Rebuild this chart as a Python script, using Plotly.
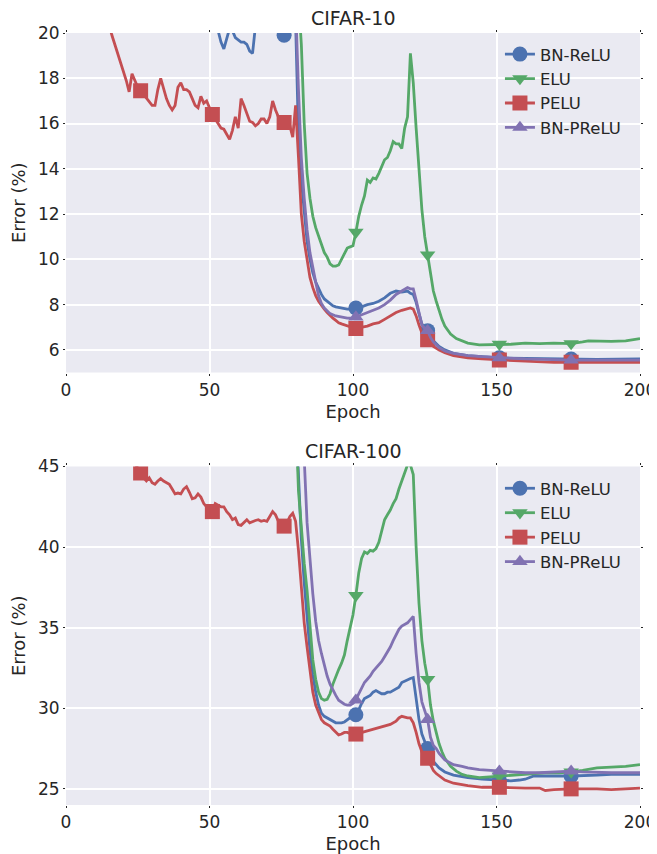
import plotly.graph_objects as go

# ---------------- data ----------------
EPOCH_TICKS = [0, 50, 100, 150, 200]
C10_Y_TICKS = [6, 8, 10, 12, 14, 16, 18, 20]
C100_Y_TICKS = [25, 30, 35, 40, 45]
MARK_EPOCHS = [1, 26, 51, 76, 101, 126, 151, 176]
SERIES_NAMES = ["BN-ReLU", "ELU", "PELU", "BN-PReLU"]

# CIFAR-10 : (epoch, error %)
c10_bn_relu = [
    (1, 40), (10, 27), (20, 23), (26, 22.3), (30, 22), (40, 21), (45, 21), (50, 20.8),
    (51, 20.7), (52, 20.5), (53, 20.1), (54, 19.6), (55, 19.3), (56, 19.8), (57, 20.2),
    (58, 20.1), (59, 19.8), (60, 19.7), (61, 19.6), (62, 19.6), (63, 19.5), (64, 19.2),
    (65, 19.1), (66, 20.3), (68, 21), (70, 20.8), (72, 20.4), (74, 20.1), (75, 20.0),
    (76, 19.9), (77, 20.1), (78, 20.5), (79, 21), (80, 20.5), (81, 15.5), (82, 13.5),
    (83, 12.0), (84, 10.8), (85, 10.0), (86, 9.4), (87, 9.0), (88, 8.7), (89, 8.45),
    (90, 8.25), (91, 8.15), (92, 8.05), (93, 7.95), (94, 7.9), (96, 7.85), (98, 7.8),
    (100, 7.8), (101, 7.85), (103, 7.9), (105, 8.0), (107, 8.05), (109, 8.15),
    (111, 8.3), (113, 8.5), (115, 8.6), (117, 8.55), (119, 8.6), (120, 8.5),
    (121, 8.45), (122, 8.1), (123, 7.6), (124, 7.15), (125, 6.95), (126, 6.85),
    (127, 6.6), (128, 6.4), (130, 6.15), (132, 6.0), (135, 5.85), (140, 5.75),
    (145, 5.7), (151, 5.65), (160, 5.62), (170, 5.6), (176, 5.6), (185, 5.58),
    (200, 5.6),
]
c10_elu = [
    (1, 45), (20, 28), (26, 27), (40, 25), (51, 24), (60, 23), (70, 22.5), (76, 22.2),
    (80, 22), (81, 21.5), (82, 19.5), (83, 16.0), (84, 13.8), (85, 12.7), (86, 11.9),
    (87, 11.4), (88, 11.0), (89, 10.6), (90, 10.3), (91, 10.1), (92, 9.8), (93, 9.7),
    (94, 9.7), (95, 9.75), (96, 10.0), (97, 10.3), (98, 10.5), (99, 10.55),
    (100, 10.6), (101, 11.2), (102, 11.9), (103, 12.4), (104, 12.8), (105, 13.5),
    (106, 13.4), (107, 13.6), (108, 13.55), (109, 13.8), (110, 14.1), (111, 14.4),
    (112, 14.5), (113, 14.8), (114, 15.2), (115, 15.1), (116, 15.1), (117, 14.9),
    (118, 15.8), (119, 16.3), (120, 19.1), (121, 17.8), (122, 15.8), (123, 13.8),
    (124, 12.2), (125, 11.0), (126, 10.2), (127, 9.3), (128, 8.6), (129, 8.15),
    (130, 7.7), (131, 7.35), (132, 7.05), (134, 6.7), (136, 6.5), (138, 6.4),
    (140, 6.3), (144, 6.22), (148, 6.22), (151, 6.25), (155, 6.25), (160, 6.3),
    (165, 6.28), (170, 6.3), (176, 6.28), (180, 6.35), (182, 6.4), (190, 6.38),
    (195, 6.4), (200, 6.5),
]
c10_pelu = [
    (1, 30), (4, 26), (8, 23), (12, 21.6), (14, 20.8), (16, 19.9), (18, 19.1),
    (20, 18.4), (21, 17.9), (22, 17.4), (23, 18.2), (24, 17.9), (25, 17.6),
    (26, 17.45), (27, 17.3), (28, 17.1), (29, 17.0), (30, 16.8), (31, 16.8),
    (32, 17.5), (33, 18.0), (34, 17.5), (35, 17.1), (36, 16.8), (37, 16.6),
    (38, 16.8), (39, 17.6), (40, 17.8), (41, 17.5), (42, 17.5), (43, 17.4),
    (44, 17.1), (45, 16.8), (46, 16.7), (47, 17.2), (48, 16.9), (49, 17.0),
    (50, 16.7), (51, 16.4), (52, 16.2), (53, 16.0), (54, 15.8), (55, 15.75),
    (56, 15.5), (57, 15.3), (58, 15.7), (59, 16.3), (60, 15.8), (61, 17.1),
    (62, 16.8), (63, 16.4), (64, 16.1), (65, 16.05), (66, 15.9), (67, 16.0),
    (68, 16.2), (69, 16.2), (70, 16.0), (71, 16.3), (72, 17.0), (73, 16.6),
    (74, 16.3), (75, 16.2), (76, 16.05), (77, 16.0), (78, 15.9), (79, 15.4),
    (80, 16.8), (81, 14.5), (82, 12.0), (83, 10.8), (84, 9.9), (85, 9.2),
    (86, 8.75), (87, 8.4), (88, 8.15), (89, 7.95), (90, 7.8), (91, 7.65),
    (92, 7.5), (93, 7.4), (94, 7.3), (95, 7.2), (96, 7.15), (97, 7.1), (98, 7.05),
    (99, 7.0), (100, 6.98), (101, 6.95), (103, 7.0), (105, 7.05), (107, 7.15),
    (109, 7.2), (111, 7.35), (113, 7.5), (115, 7.65), (117, 7.75), (119, 7.8),
    (120, 7.85), (121, 7.8), (122, 7.5), (123, 7.1), (124, 6.75), (125, 6.55),
    (126, 6.45), (127, 6.3), (128, 6.15), (130, 6.0), (132, 5.88), (135, 5.75),
    (140, 5.65), (145, 5.6), (151, 5.55), (160, 5.5), (170, 5.45), (176, 5.45),
    (185, 5.45), (200, 5.45),
]
c10_bn_prelu = [
    (1, 45), (10, 30), (20, 26), (26, 25), (30, 24), (40, 23), (51, 22.5), (60, 22),
    (70, 21.8), (76, 21.5), (80, 21.3), (81, 17.5), (82, 14.5), (83, 12.7),
    (84, 11.3), (85, 10.3), (86, 9.6), (87, 9.0), (88, 8.4), (89, 8.05), (90, 7.85),
    (91, 7.7), (92, 7.6), (94, 7.5), (96, 7.45), (98, 7.4), (100, 7.4), (101, 7.45),
    (103, 7.55), (105, 7.65), (107, 7.75), (109, 7.85), (111, 8.0), (113, 8.2),
    (115, 8.45), (117, 8.6), (118, 8.7), (119, 8.75), (120, 8.7), (121, 8.7),
    (122, 8.2), (123, 7.6), (124, 7.1), (125, 6.95), (126, 6.85), (127, 6.55),
    (128, 6.35), (130, 6.1), (132, 5.95), (135, 5.85), (140, 5.75), (145, 5.7),
    (151, 5.65), (160, 5.6), (176, 5.55), (190, 5.55), (200, 5.55),
]

# CIFAR-100 : (epoch, error %)
c100_bn_relu = [
    (1, 70), (20, 55), (26, 54), (40, 52), (51, 51), (60, 50), (70, 49.5),
    (76, 49), (80, 48.5), (81, 44.0), (82, 40.5), (83, 37.8), (84, 35.6),
    (85, 33.6), (86, 32.1), (87, 31.0), (88, 30.2), (89, 29.7), (90, 29.5),
    (91, 29.4), (92, 29.3), (93, 29.2), (94, 29.1), (95, 29.1), (96, 29.1),
    (97, 29.15), (98, 29.3), (99, 29.45), (100, 29.55), (101, 29.6), (102, 29.9),
    (103, 30.3), (104, 30.6), (105, 30.7), (106, 30.8), (107, 31.0), (108, 31.1),
    (109, 31.0), (110, 30.9), (111, 30.9), (112, 31.0), (113, 31.0), (114, 31.1),
    (115, 31.2), (116, 31.3), (117, 31.6), (118, 31.7), (119, 31.8), (120, 31.85),
    (121, 31.9), (122, 30.5), (123, 29.3), (124, 28.4), (125, 27.9), (126, 27.5),
    (127, 27.0), (128, 26.7), (129, 26.5), (130, 26.3), (132, 26.05), (135, 25.85),
    (140, 25.7), (145, 25.6), (151, 25.55), (155, 25.5), (158, 25.55), (160, 25.6),
    (163, 25.8), (170, 25.8), (176, 25.8), (185, 25.85), (190, 25.9), (200, 25.9),
]
c100_elu = [
    (1, 70), (20, 58), (26, 57), (40, 54), (51, 52), (60, 51), (70, 50), (76, 49),
    (80, 48.5), (81, 43.5), (82, 41.0), (83, 39.0), (84, 37.3), (85, 35.0),
    (86, 33.0), (87, 31.8), (88, 31.0), (89, 30.6), (90, 30.5), (91, 30.55),
    (92, 30.9), (93, 31.5), (94, 32.0), (95, 32.4), (96, 32.8), (97, 33.3),
    (98, 34.2), (99, 35.0), (100, 35.8), (101, 37.0), (102, 38.4), (103, 39.3),
    (104, 39.7), (105, 39.6), (106, 39.8), (107, 39.75), (108, 39.9), (109, 40.3),
    (110, 41.0), (111, 41.7), (112, 42.0), (113, 42.3), (114, 42.7), (115, 43.0),
    (116, 43.6), (117, 44.1), (118, 44.6), (119, 45.1), (120, 45.1), (121, 44.5),
    (122, 40.0), (123, 36.5), (124, 34.2), (125, 32.8), (126, 31.8), (127, 30.2),
    (128, 29.2), (129, 28.4), (130, 27.8), (131, 27.3), (132, 26.9), (134, 26.4),
    (136, 26.1), (138, 25.9), (140, 25.8), (144, 25.7), (148, 25.75), (151, 25.8),
    (155, 25.85), (160, 25.9), (167, 26.0), (172, 26.0), (176, 26.05), (180, 26.15),
    (185, 26.3), (190, 26.35), (195, 26.4), (200, 26.5),
]
c100_pelu = [
    (1, 60), (5, 55), (10, 51), (15, 48.5), (20, 46.5), (23, 45.5), (25, 44.9),
    (26, 44.6), (27, 44.3), (28, 44.1), (29, 44.3), (30, 44.0), (31, 43.9),
    (32, 44.1), (33, 44.25), (34, 44.1), (35, 44.0), (36, 43.9), (37, 43.6),
    (38, 43.3), (39, 43.35), (40, 43.3), (41, 43.6), (42, 43.75), (43, 43.4),
    (44, 43.0), (45, 43.05), (46, 43.3), (47, 43.1), (48, 42.7), (49, 42.5),
    (50, 42.3), (51, 42.2), (52, 42.7), (53, 42.6), (54, 42.5), (55, 42.5),
    (56, 42.2), (57, 42.0), (58, 41.7), (59, 41.8), (60, 41.4), (61, 41.35),
    (62, 41.5), (63, 41.7), (64, 41.5), (65, 41.6), (66, 41.65), (67, 41.7),
    (68, 41.6), (69, 41.65), (70, 41.6), (71, 41.9), (72, 42.2), (73, 42.0),
    (74, 41.6), (75, 41.4), (76, 41.3), (77, 41.5), (78, 41.9), (79, 42.1),
    (80, 41.6), (81, 39.8), (82, 37.6), (83, 35.3), (84, 33.8), (85, 32.2),
    (86, 31.0), (87, 30.2), (88, 29.7), (89, 29.3), (90, 29.1), (91, 29.0),
    (92, 28.9), (93, 28.7), (94, 28.5), (95, 28.35), (96, 28.4), (97, 28.5),
    (98, 28.5), (99, 28.4), (100, 28.35), (101, 28.4), (103, 28.5), (105, 28.6),
    (107, 28.7), (109, 28.8), (111, 28.9), (113, 29.0), (115, 29.2), (116, 29.4),
    (117, 29.5), (118, 29.45), (119, 29.4), (120, 29.4), (121, 29.1), (122, 28.5),
    (123, 27.8), (124, 27.3), (125, 27.1), (126, 26.9), (127, 26.5), (128, 26.15),
    (129, 25.95), (130, 25.8), (132, 25.55), (135, 25.35), (140, 25.2), (145, 25.1),
    (151, 25.1), (160, 25.05), (165, 25.05), (167, 24.9), (170, 24.95), (176, 25.0),
    (185, 25.0), (190, 24.95), (195, 25.0), (200, 25.05),
]
c100_bn_prelu = [
    (1, 75), (20, 60), (26, 59), (40, 56), (51, 54), (60, 53), (70, 52), (76, 51.5),
    (80, 51), (82, 48), (83, 45.5), (84, 41.5), (85, 39.0), (86, 37.1), (87, 35.4),
    (88, 34.2), (89, 33.4), (90, 32.6), (91, 32.0), (92, 31.5), (93, 31.1),
    (94, 30.8), (95, 30.5), (96, 30.35), (97, 30.25), (98, 30.2), (99, 30.2),
    (100, 30.3), (101, 30.5), (102, 30.9), (103, 31.3), (104, 31.6), (105, 31.8),
    (106, 32.0), (107, 32.3), (108, 32.5), (109, 32.7), (110, 32.9), (111, 33.2),
    (112, 33.5), (113, 33.8), (114, 34.2), (115, 34.6), (116, 34.9), (117, 35.1),
    (118, 35.2), (119, 35.3), (120, 35.5), (121, 35.7), (122, 33.4), (123, 31.6),
    (124, 30.4), (125, 29.8), (126, 29.3), (127, 28.2), (128, 27.7), (129, 27.5),
    (130, 27.2), (132, 26.8), (135, 26.5), (138, 26.4), (140, 26.3), (144, 26.2),
    (151, 26.1), (155, 26.05), (160, 26.0), (165, 26.0), (170, 26.05), (176, 26.1),
    (180, 26.05), (190, 26.0), (200, 26.0),
]

# ---------------- styling ----------------
COLORS = ["#4C72B0", "#55A868", "#C44E52", "#8172B2"]
SYMBOLS = ["circle", "triangle-down", "square", "triangle-up"]
MSIZES = [15, 13.5, 15, 13.5]
TEXT = "#262626"
FONT = "DejaVu Sans"

fig = go.Figure()

panels = [
    ("x", "y", "legend", [c10_bn_relu, c10_elu, c10_pelu, c10_bn_prelu]),
    ("x2", "y2", "legend2", [c100_bn_relu, c100_elu, c100_pelu, c100_bn_prelu]),
]

for xa, ya, leg, series in panels:
    for name, data, col, sym, ms in zip(SERIES_NAMES, series, COLORS, SYMBOLS, MSIZES):
        ep = [p[0] for p in data]
        val = [p[1] for p in data]
        lookup = dict(data)
        mx = list(MARK_EPOCHS)
        my = [lookup[e] for e in MARK_EPOCHS]
        fig.add_trace(go.Scatter(
            x=ep, y=val, mode="lines", xaxis=xa, yaxis=ya,
            line=dict(color=col, width=2.8), showlegend=False, hoverinfo="skip"))
        fig.add_trace(go.Scatter(
            x=mx, y=my, mode="markers", xaxis=xa, yaxis=ya,
            marker=dict(color=col, symbol=sym, size=ms, line=dict(width=0)),
            showlegend=False, hoverinfo="skip"))
        # legend entry (line + marker sample)
        fig.add_trace(go.Scatter(
            x=[None], y=[None], mode="lines+markers", name=name, xaxis=xa, yaxis=ya,
            legend=leg,
            line=dict(color=col, width=2.8),
            marker=dict(color=col, symbol=sym, size=ms, line=dict(width=0))))

axis_common = dict(
    showgrid=True, gridcolor="white", gridwidth=1.6, zeroline=False, showline=False,
    ticks="outside", ticklen=2, tickcolor=TEXT, mirror="ticks", automargin=False,
    tickfont=dict(family=FONT, size=17, color=TEXT),
)
xtitle = dict(text="Epoch", font=dict(family=FONT, size=18, color=TEXT), standoff=6)
ytitle = dict(text="Error (%)", font=dict(family=FONT, size=18, color=TEXT), standoff=8)
legend_common = dict(xanchor="left", yanchor="top", bgcolor="rgba(0,0,0,0)",
                     font=dict(family=FONT, size=16.5, color=TEXT), tracegroupgap=0)

TOP_DOM = [0.5602, 1]
BOT_DOM = [0, 0.4385]

# the page adds an 8 px body margin, so the figure is 8 px smaller than the window
fig.update_layout(
    width=649, height=846,
    margin=dict(l=58, r=17, t=25, b=49),
    paper_bgcolor="white", plot_bgcolor="#EAEAF2",
    font=dict(family=FONT, size=16, color=TEXT),
    xaxis=dict(domain=[0, 1], anchor="y", range=[0, 200], tickvals=EPOCH_TICKS,
               title=xtitle, **axis_common),
    yaxis=dict(domain=TOP_DOM, anchor="x", range=[5, 20], tickvals=C10_Y_TICKS,
               title=ytitle, **axis_common),
    xaxis2=dict(domain=[0, 1], anchor="y2", range=[0, 200], tickvals=EPOCH_TICKS,
                title=xtitle, **axis_common),
    yaxis2=dict(domain=BOT_DOM, anchor="x2", range=[24, 45], tickvals=C100_Y_TICKS,
                title=ytitle, **axis_common),
    legend=dict(x=0.756, y=0.995, **legend_common),
    legend2=dict(x=0.756, y=0.4326, **legend_common),
    annotations=[
        dict(text="CIFAR-10", x=0.5, y=TOP_DOM[1], xref="paper", yref="paper",
             xanchor="center", yanchor="bottom", yshift=2, showarrow=False,
             font=dict(family=FONT, size=19, color=TEXT)),
        dict(text="CIFAR-100", x=0.5, y=BOT_DOM[1], xref="paper", yref="paper",
             xanchor="center", yanchor="bottom", yshift=2, showarrow=False,
             font=dict(family=FONT, size=19, color=TEXT)),
    ],
)

fig.write_html("out.html")
